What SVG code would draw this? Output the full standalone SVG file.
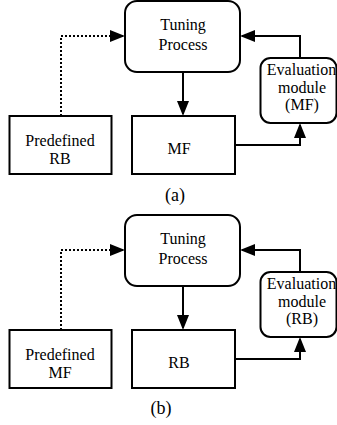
<svg xmlns="http://www.w3.org/2000/svg" width="337" height="425" viewBox="0 0 337 425">
<defs>
<style>
.box{fill:#fff;stroke:#000;stroke-width:2}
.ln{fill:none;stroke:#000;stroke-width:2}
.dot{fill:none;stroke:#000;stroke-width:2;stroke-dasharray:2,2}
text{font-family:"Liberation Serif","Times New Roman",serif;font-size:16px;fill:#000;text-anchor:middle}
.cap{font-size:18px}
</style>
<marker id="ah" markerUnits="userSpaceOnUse" markerWidth="15" markerHeight="12" refX="13" refY="6" orient="auto" viewBox="0 0 15 12">
<path d="M0,0 L15,6 L0,12 z" fill="#000"/>
</marker>
</defs>
<rect width="337" height="425" fill="#fff"/>

<g id="connectors-a">
<path class="dot" d="M61,116 V36 H123" marker-end="url(#ah)"/>
<path class="ln" d="M183,72 V114" marker-end="url(#ah)"/>
<path class="ln" d="M235,145 H300 V125" marker-end="url(#ah)"/>
<path class="ln" d="M300,58 V36 H242" marker-end="url(#ah)"/>
</g>
<g id="tuning-a"><rect class="box" x="125" y="1" width="115" height="71" rx="12"/><text x="183" y="30">Tuning</text><text x="183" y="50">Process</text></g>
<g id="eval-a"><rect class="box" x="260.5" y="58" width="76" height="65" rx="10"/><text x="301.5" y="75">Evaluation</text><text x="302" y="92.5">module</text><text x="302" y="110">(MF)</text></g>
<g id="pre-a"><rect class="box" x="9.5" y="116" width="102" height="58"/><text x="60" y="146">Predefined</text><text x="60" y="164">RB</text></g>
<g id="mf-a"><rect class="box" x="132" y="116" width="103" height="58"/><text x="179" y="154">MF</text></g>
<text class="cap" x="175" y="201">(a)</text>

<g id="connectors-b">
<path class="dot" d="M61,330 V250 H123" marker-end="url(#ah)"/>
<path class="ln" d="M183,286 V328" marker-end="url(#ah)"/>
<path class="ln" d="M235,359 H300 V339" marker-end="url(#ah)"/>
<path class="ln" d="M300,272 V250 H242" marker-end="url(#ah)"/>
</g>
<g id="tuning-b"><rect class="box" x="125" y="215" width="115" height="71" rx="12"/><text x="183" y="244">Tuning</text><text x="183" y="264">Process</text></g>
<g id="eval-b"><rect class="box" x="260.5" y="272" width="76" height="65" rx="10"/><text x="301.5" y="289">Evaluation</text><text x="302" y="306.5">module</text><text x="302" y="324">(RB)</text></g>
<g id="pre-b"><rect class="box" x="9.5" y="330" width="102" height="58"/><text x="60" y="360">Predefined</text><text x="60" y="378">MF</text></g>
<g id="rb-b"><rect class="box" x="132" y="330" width="103" height="58"/><text x="179" y="368">RB</text></g>
<text class="cap" x="161" y="414">(b)</text>
</svg>
